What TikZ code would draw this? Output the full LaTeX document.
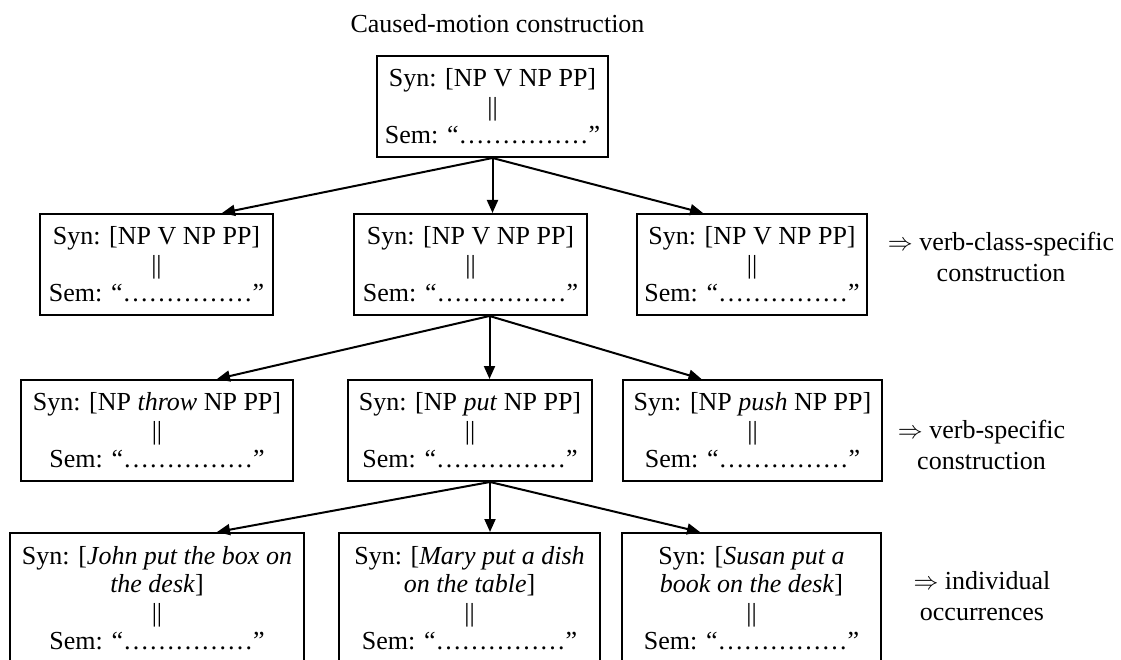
\documentclass[tikz,border=0pt]{standalone}
\usepackage{fontspec}
\setmainfont{Liberation Serif}
\usetikzlibrary{arrows.meta,calc}
\newcommand{\synsem}[1]{Syn: [#1]\\||\\Sem: “……………”}
\tikzset{
  box/.style={draw, line width=2pt, inner sep=0pt, align=center,
    font=\fontsize{26}{28.5}\selectfont, minimum height=101pt},
  lab/.style={align=center, inner sep=0pt, font=\fontsize{26}{31}\selectfont},
  arr/.style={line width=2pt, -{Triangle[length=13pt,width=11pt]}},
}
\begin{document}
\begin{tikzpicture}[x=1pt,y=-1pt]
\clip (0,0) rectangle (1121,660);
\node[anchor=base, inner sep=0pt, font=\fontsize{26}{31}\selectfont] (title) at (497.5,33) {Caused-motion construction};

\node[box, minimum width=231pt] (T) at (492.5,106.5) {\synsem{NP V NP PP}};

\node[box, minimum width=233pt] (A1) at (156.5,264.5) {\synsem{NP V NP PP}};
\node[box, minimum width=233pt] (A2) at (470.5,264.5) {\synsem{NP V NP PP}};
\node[box, minimum width=230pt] (A3) at (752,264.5) {\synsem{NP V NP PP}};

\node[box, minimum width=272pt] (B1) at (157,430.5) {\synsem{NP \textit{throw} NP PP}};
\node[box, minimum width=244pt] (B2) at (470,430.5) {\synsem{NP \textit{put} NP PP}};
\node[box, minimum width=259pt] (B3) at (752.5,430.5) {\synsem{NP \textit{push} NP PP}};

\node[box, anchor=north, minimum width=294pt, minimum height=130pt] (C1) at (157,532)
  {Syn: [\textit{John put the box on}\\\textit{the desk}]\\||\\Sem: “……………”};
\node[box, anchor=north, minimum width=261pt, minimum height=130pt] (C2) at (469.5,532)
  {Syn: [\textit{Mary put a dish}\\\textit{on the table}]\\||\\Sem: “……………”};
\node[box, anchor=north, minimum width=259pt, minimum height=130pt] (C3) at (751.5,532)
  {Syn: [\textit{Susan put a}\\\textit{book on the desk}]\\||\\Sem: “……………”};

\node[lab] (S1) at (1001,256.6) {$\Rightarrow$ verb-class-specific\\construction};
\node[lab] (S2) at (981.5,444.6) {$\Rightarrow$ verb-specific\\construction};
\node[lab] (S3) at (982,596.6) {$\Rightarrow$ individual\\occurrences};

\draw[arr] (T.south) -- ($(A1.north)+(65.5,0)$);
\draw[arr] (T.south) -- (T.south |- A2.north);
\draw[arr] (T.south) -- ($(A3.north)+(-49,0)$);

\coordinate (a2out) at ($(A2.south)+(19,0)$);
\draw[arr] (a2out) -- ($(B1.north)+(60,0)$);
\draw[arr] (a2out) -- (a2out |- B2.north);
\draw[arr] (a2out) -- ($(B3.north)+(-51,0)$);

\coordinate (b2out) at ($(B2.south)+(20,0)$);
\draw[arr] (b2out) -- ($(C1.north)+(60,0)$);
\draw[arr] (b2out) -- (b2out |- C2.north);
\draw[arr] (b2out) -- ($(C3.north)+(-51.5,0)$);
\end{tikzpicture}
\end{document}
